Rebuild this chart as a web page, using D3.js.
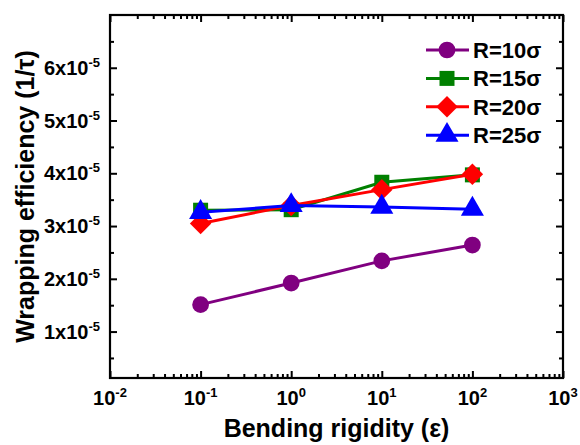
<!DOCTYPE html>
<html>
<head>
<meta charset="utf-8">
<script src="https://cdn.jsdelivr.net/npm/d3@7"></script>
<style>
  html, body { margin: 0; padding: 0; background: #fff; }
  svg { display: block; font-family: "Liberation Sans", Arial, sans-serif; font-weight: bold; }
</style>
</head>
<body>
<svg id="chart" width="580" height="445"></svg>
<script>
// Bending rigidity values (x) shared by all series
const rigidity = [0.1, 1, 10, 100];

// Wrapping efficiency in units of 1e-5 (1/τ)
const effR10 = [1.51, 1.92, 2.34, 2.64];
const effR15 = [3.30, 3.31, 3.83, 3.97];
const effR20 = [3.05, 3.39, 3.69, 3.98];
const effR25 = [3.26, 3.39, 3.36, 3.32];

const seriesNames = ["R=10σ", "R=15σ", "R=20σ", "R=25σ"];
const seriesColors = ["#800080", "#008000", "#ff0000", "#0000ff"];
const seriesValues = [effR10, effR15, effR20, effR25];

const xTickExps = [-2, -1, 0, 1, 2, 3];
const yTickVals = [1, 2, 3, 4, 5, 6];
const yTickExp = -5;

const margin = { left: 110, right: 17, top: 15, bottom: 67 };
const W = 580, H = 445;
const iw = W - margin.left - margin.right;
const ih = H - margin.top - margin.bottom;

const svg = d3.select("#chart");
const g = svg.append("g").attr("transform", `translate(${margin.left},${margin.top})`);

const x = d3.scaleLog().domain([1e-2, 1e3]).range([0, iw]);
const y = d3.scaleLinear().domain([0.12, 7.0]).range([ih, 0]);

// marker shapes: circle, square, diamond (square turned 45°), triangle
const markers = [
  { type: d3.symbolCircle, size: 220, rot: 0 },
  { type: d3.symbolSquare, size: 225, rot: 0 },
  { type: d3.symbolSquare, size: 230, rot: 45 },
  { type: d3.symbolTriangle, size: 230, rot: 0 }
];

// minor tick positions on the log axis
const xMinor = [];
xTickExps.slice(0, -1).forEach(e => { for (let k = 2; k <= 9; k++) xMinor.push(k * Math.pow(10, e)); });
const xMajor = xTickExps.map(e => Math.pow(10, e));
const yMinor = d3.range(0.5, 7.0, 1);

function styleAxis(sel) {
  sel.select(".domain").remove();
  sel.selectAll("line").attr("stroke", "#000").attr("stroke-width", 2);
  sel.selectAll("text").remove();
}

// bottom / top axes (ticks point inward)
g.append("g").attr("transform", `translate(0,${ih})`)
  .call(d3.axisBottom(x).tickValues(xMajor).tickSize(-7)).call(styleAxis);
g.append("g").attr("transform", `translate(0,${ih})`)
  .call(d3.axisBottom(x).tickValues(xMinor).tickSize(-4)).call(styleAxis);
g.append("g")
  .call(d3.axisTop(x).tickValues(xMajor).tickSize(-7)).call(styleAxis);
g.append("g")
  .call(d3.axisTop(x).tickValues(xMinor).tickSize(-4)).call(styleAxis);

// left / right axes
g.append("g").call(d3.axisLeft(y).tickValues(yTickVals).tickSize(-7)).call(styleAxis);
g.append("g").call(d3.axisLeft(y).tickValues(yMinor).tickSize(-4)).call(styleAxis);
g.append("g").attr("transform", `translate(${iw},0)`)
  .call(d3.axisRight(y).tickValues(yTickVals).tickSize(-7)).call(styleAxis);
g.append("g").attr("transform", `translate(${iw},0)`)
  .call(d3.axisRight(y).tickValues(yMinor).tickSize(-4)).call(styleAxis);

// frame
g.append("rect").attr("width", iw).attr("height", ih)
  .attr("fill", "none").attr("stroke", "#000").attr("stroke-width", 2.2);

// x tick labels: 10^n
const xl = g.append("g").selectAll("text").data(xTickExps).join("text")
  .attr("x", d => x(Math.pow(10, d)))
  .attr("y", ih + 27)
  .attr("text-anchor", "middle")
  .attr("font-size", 20);
xl.append("tspan").text("10");
xl.append("tspan").attr("dy", -8).attr("font-size", 13).text(d => d);

// y tick labels: n x 10^-5
const yl = g.append("g").selectAll("text").data(yTickVals).join("text")
  .attr("x", -10)
  .attr("y", d => y(d) + 7)
  .attr("text-anchor", "end")
  .attr("font-size", 20);
yl.append("tspan").text(d => d + "x10");
yl.append("tspan").attr("dy", -8).attr("font-size", 13).text(yTickExp);

// series lines and markers
const line = d3.line().x(d => x(d[0])).y(d => y(d[1]));
seriesValues.forEach((vals, i) => {
  const pts = rigidity.map((r, j) => [r, vals[j]]);
  const m = markers[i];
  g.append("path").datum(pts).attr("d", line)
    .attr("fill", "none").attr("stroke", seriesColors[i]).attr("stroke-width", 3);
  g.append("g").selectAll("path").data(pts).join("path")
    .attr("transform", d => `translate(${x(d[0])},${y(d[1])}) rotate(${m.rot})`)
    .attr("d", d3.symbol().type(m.type).size(m.size))
    .attr("fill", seriesColors[i]);
});

// legend
const lg = svg.append("g").attr("transform", "translate(426,50)");
seriesNames.forEach((name, i) => {
  const m = markers[i];
  const row = lg.append("g").attr("transform", `translate(0,${i * 28.4})`);
  row.append("line").attr("x1", 0).attr("x2", 43).attr("y1", 0).attr("y2", 0)
    .attr("stroke", seriesColors[i]).attr("stroke-width", 3);
  row.append("path").attr("transform", `translate(21,0) rotate(${m.rot})`)
    .attr("d", d3.symbol().type(m.type).size(m.size))
    .attr("fill", seriesColors[i]);
  row.append("text").attr("x", 47).attr("y", 8).attr("font-size", 22).text(name);
});

// axis titles
svg.append("text")
  .attr("x", margin.left + iw / 2).attr("y", 437)
  .attr("text-anchor", "middle").attr("font-size", 25)
  .text("Bending rigidity (ε)");
svg.append("text")
  .attr("transform", `translate(34,${margin.top + ih / 2}) rotate(-90)`)
  .attr("text-anchor", "middle").attr("font-size", 25)
  .text("Wrapping efficiency (1/τ)");
</script>
</body>
</html>
